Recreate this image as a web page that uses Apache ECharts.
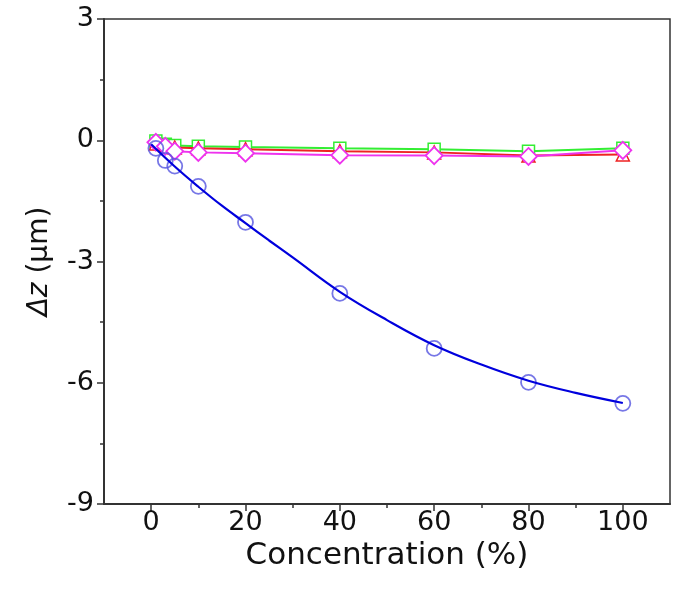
<!DOCTYPE html>
<html>
<head>
<meta charset="utf-8">
<script src="https://cdn.jsdelivr.net/npm/echarts@6/dist/echarts.min.js"></script>
<style>
html,body{margin:0;padding:0;background:#fff;}
#chart{width:675px;height:599px;}
</style>
</head>
<body>
<div id="chart"></div>
<script>
// Data
var concX = [1, 3, 5, 10, 20, 40, 60, 80, 100];
var blueCircles = [-0.2, -0.5, -0.64, -1.14, -2.03, -3.79, -5.15, -5.99, -6.51];
var greenSquares = [-0.02, -0.10, -0.13, -0.15, -0.17, -0.2, -0.22, -0.27, -0.2];
var redTriangles = [-0.08, -0.12, -0.18, -0.2, -0.22, -0.27, -0.3, -0.38, -0.35];
var magentaDiamonds = [-0.05, -0.15, -0.27, -0.3, -0.32, -0.37, -0.38, -0.4, -0.25];
var fitX = [0, 5, 10, 15, 20, 25, 30, 40, 50, 60, 70, 80, 90, 100];
var fitY = [-0.1, -0.65, -1.15, -1.62, -2.05, -2.48, -2.9, -3.75, -4.45, -5.07, -5.55, -5.95, -6.25, -6.5];
var xMajorTicks = [0, 20, 40, 60, 80, 100];
var xMinorTicks = [10, 30, 50, 70, 90];

function pairs(xs, ys) { return xs.map(function (x, i) { return [x, ys[i]]; }); }

var FONT = 'DejaVu Sans';
var AXC = '#333';
var chart = echarts.init(document.getElementById('chart'));
chart.setOption({
  animation: false,
  backgroundColor: '#fff',
  grid: { left: 104, top: 19, right: 5, bottom: 95, show: true, borderColor: AXC, borderWidth: 1.5, backgroundColor: 'transparent' },
  xAxis: [{
    type: 'value', min: -10, max: 110,
    name: 'Concentration (%)', nameLocation: 'middle', nameGap: 29,
    nameTextStyle: { fontFamily: FONT, fontSize: 31, color: '#111' },
    axisLine: { show: true, onZero: false, lineStyle: { color: AXC, width: 2 } },
    axisTick: { show: true, customValues: xMajorTicks, length: 7, lineStyle: { color: AXC, width: 1.5 } },
    axisLabel: { customValues: xMajorTicks, fontFamily: FONT, fontSize: 27, color: '#111', margin: 5 },
    splitLine: { show: false }
  }, {
    type: 'value', min: -10, max: 110, position: 'bottom',
    axisLine: { show: false, onZero: false },
    axisTick: { show: true, customValues: xMinorTicks, length: 4, lineStyle: { color: AXC, width: 1.5 } },
    axisLabel: { show: false },
    splitLine: { show: false }
  }],
  yAxis: {
    type: 'value', min: -9, max: 3, interval: 3,
    name: '{i|Δz} (μm)', nameLocation: 'middle', nameGap: 50, nameRotate: 90,
    nameTextStyle: { fontFamily: FONT, fontSize: 28, color: '#111', rich: { i: { fontFamily: FONT, fontSize: 28, fontStyle: 'italic', color: '#111' } } },
    axisLine: { show: true, onZero: false, lineStyle: { color: AXC, width: 2 } },
    axisTick: { show: true, length: 7, lineStyle: { color: AXC, width: 1.5 } },
    minorTick: { show: true, splitNumber: 2, length: 4, lineStyle: { color: AXC, width: 1.5 } },
    axisLabel: { fontFamily: FONT, fontSize: 27, color: '#111', margin: 10 },
    splitLine: { show: false }
  },
  series: [
    {
      type: 'line', data: pairs(concX, greenSquares), symbol: 'rect', symbolSize: 12,
      lineStyle: { color: '#33ee33', width: 2 },
      itemStyle: { color: '#fff', borderColor: '#33ee33', borderWidth: 1.5 }, z: 3
    },
    {
      type: 'line', data: pairs(concX, redTriangles), symbol: 'triangle', symbolSize: 13,
      lineStyle: { color: '#ee2222', width: 2 },
      itemStyle: { color: '#fff', borderColor: '#ee2222', borderWidth: 1.5 }, z: 4
    },
    {
      type: 'line', data: pairs(concX, magentaDiamonds), symbol: 'diamond', symbolSize: 17,
      lineStyle: { color: '#ee33ee', width: 2 },
      itemStyle: { color: '#fff', borderColor: '#ee33ee', borderWidth: 1.8 }, z: 5
    },
    {
      type: 'scatter', data: pairs(concX, blueCircles), symbol: 'circle', symbolSize: 15,
      itemStyle: { color: 'transparent', borderColor: '#5555e0', borderWidth: 1.8 }, z: 6
    },
    {
      type: 'line', data: pairs(fitX, fitY), smooth: 0.4, showSymbol: false,
      lineStyle: { color: '#0000dd', width: 2.2 }, z: 7
    }
  ]
});
</script>
</body>
</html>
